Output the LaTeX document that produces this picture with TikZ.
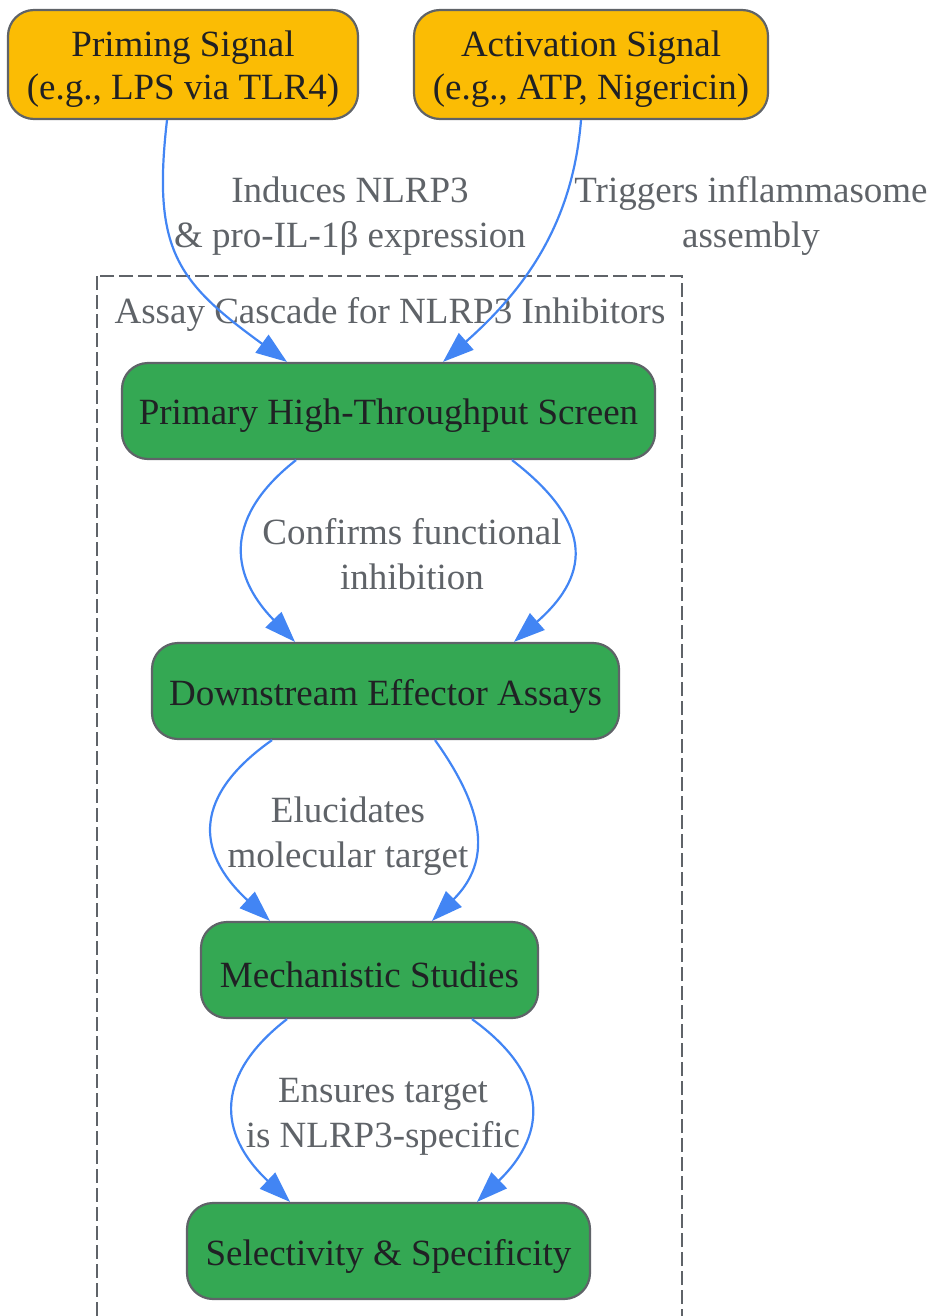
\documentclass[tikz,border=0pt]{standalone}
\usepackage{fontspec}
\setmainfont{Liberation Serif}
\usetikzlibrary{arrows.meta}
\definecolor{sigfill}{HTML}{FBBC04}
\definecolor{assayfill}{HTML}{34A853}
\definecolor{rim}{HTML}{5F6368}
\definecolor{ink}{HTML}{202124}
\definecolor{wire}{HTML}{4285F4}
\newcommand{\sunk}[1]{\raisebox{-5pt}[\height][\depth]{#1}}
\tikzset{
  box/.style={draw=rim,line width=2.2pt,rounded corners=26pt,text=ink,align=center,inner sep=0pt,font=\fontsize{37}{43}\selectfont},
  signal/.style={box,fill=sigfill,minimum height=109pt},
  assay/.style={box,fill=assayfill,minimum height=96pt},
  flow/.style={draw=wire,line width=2.2pt,-{Triangle[length=31pt,width=22pt]}},
  lbl/.style={text=rim,align=center,font=\fontsize{37}{44.5}\selectfont},
}

\begin{document}
\begin{tikzpicture}[x=1pt,y=-1pt]
\useasboundingbox (0,0) rectangle (933,1316);
\draw[draw=rim,line width=2pt,dash pattern=on 14pt off 5pt] (97,276) rectangle (682,1400);
\node[lbl] (cluster) at (390,314) {Assay Cascade for NLRP3 Inhibitors};
\node[signal,minimum width=350pt] (prime) at (183,64.5) {\sunk{Priming Signal}\\\sunk{(e.g., LPS via TLR4)}};
\node[signal,minimum width=354pt] (act) at (591,64.5) {\sunk{Activation Signal}\\\sunk{(e.g., ATP, Nigericin)}};
\node[assay,minimum width=533pt] (prim) at (388.5,411) {\sunk{Primary High-Throughput Screen}};
\node[assay,minimum width=467pt] (down) at (385.5,691) {\sunk{Downstream Effector Assays}};
\node[assay,minimum width=337pt] (mech) at (369.5,970) {\sunk{Mechanistic Studies}};
\node[assay,minimum width=403pt] (sel) at (388.5,1251) {\sunk{Selectivity \& Specificity}};
\draw[flow] ([xshift=-16pt]prime.south) .. controls +(-15,130) and +(-110,-80) .. ([xshift=-101.5pt]prim.north);
\draw[flow] ([xshift=-10pt]act.south) .. controls +(-8,100) and +(85,-75) .. ([xshift=54.5pt]prim.north);
\node[lbl] (induce) at (350,216) {Induces NLRP3\\\& pro-IL-1β expression};
\node[lbl] (trigger) at (751,216) {Triggers inflammasome\\assembly};
\draw[flow] ([xshift=-92.5pt]prim.south) .. controls +(-70,55) and +(-68,-70) .. ([xshift=-90.5pt]down.north);
\draw[flow] ([xshift=123.5pt]prim.south) .. controls +(78,60) and +(80,-70) .. ([xshift=128.5pt]down.north);
\node[lbl] (confirm) at (412,554) {Confirms functional\\inhibition};
\draw[flow] ([xshift=-113.5pt]down.south) .. controls +(-78,55) and +(-76,-70) .. ([xshift=-99.5pt]mech.north);
\draw[flow] ([xshift=49.5pt]down.south) .. controls +(50,70) and +(60,-60) .. ([xshift=62.5pt]mech.north);
\node[lbl] (elucid) at (348,836) {Elucidates\\molecular target};
\draw[flow] ([xshift=-82.5pt]mech.south) .. controls +(-71,55) and +(-74,-70) .. ([xshift=-98.5pt]sel.north);
\draw[flow] ([xshift=102.5pt]mech.south) .. controls +(76,55) and +(72,-70) .. ([xshift=88.5pt]sel.north);
\node[lbl] (ensure) at (383,1117) {Ensures target\\is NLRP3-specific};
\end{tikzpicture}
\end{document}
